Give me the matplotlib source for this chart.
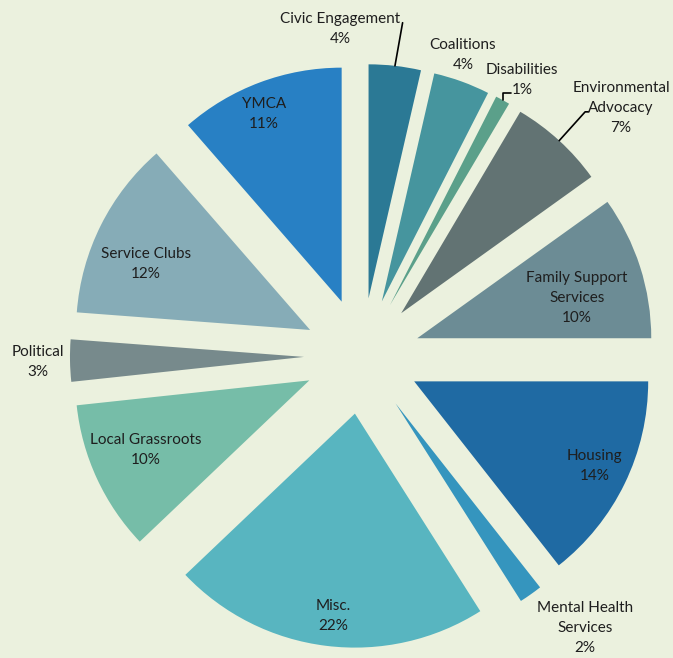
import numpy as np
import matplotlib
matplotlib.use("Agg")
import matplotlib.pyplot as plt

plt.rcParams['font.family'] = ['Lato', 'DejaVu Sans']

# data (clockwise from 12 o'clock)
categories = ['Civic Engagement', 'Coalitions', 'Disabilities', 'Environmental\nAdvocacy',
              'Family Support\nServices', 'Housing', 'Mental Health\nServices', 'Misc.',
              'Local Grassroots', 'Political', 'Service Clubs', 'YMCA']
shares = [3.6, 3.9, 1.0, 6.6, 9.9, 14.4, 1.6, 21.9, 10.4, 2.9, 12.4, 11.4]
colors = ['#2B7995', '#46959E', '#5BA08A', '#627373', '#6C8C95', '#1F6AA3',
          '#3595BE', '#58B5C0', '#76BDA8', '#778A8C', '#86ACB7', '#2880C4']

# label placement: distance (in radii) from wedge tip and angular shift (deg, clockwise)
label_r = [1.158, 1.109, 1.116, 1.285, 0.704, 0.853, 1.256, 0.870, 0.759, 1.137, 0.756, 0.868]
label_dev = [-12.5, -1.8, 1.6, 4.5, 3.6, -0.8, -4.8, -0.8, 1.7, -0.2, -4.7, -2.0]

BG = '#EBF1DE'
W, H = 673, 658
cx, cy, R = 362, 356, 234

fig = plt.figure(figsize=(W / 100, H / 100), dpi=100, facecolor=BG)
ax = fig.add_axes([0, 0, 1, 1])
ax.set_facecolor(BG)

wedges, _ = ax.pie(shares, colors=colors, startangle=90, counterclock=False,
                   explode=[0.248] * len(shares), radius=1,
                   wedgeprops=dict(linewidth=0))

ax.set_xlim(-cx / R, (W - cx) / R)
ax.set_ylim((cy - H) / R, cy / R)
ax.set_aspect('equal')
ax.axis('off')

text_kw = dict(ha='center', va='center', fontsize=11, color='#1E1E1E', linespacing=1.55)
line_kw = dict(arrowstyle='-', color='black', lw=1.2, patchA=None, shrinkA=0, shrinkB=0)

for i, w in enumerate(wedges):
    mid = np.deg2rad((w.theta1 + w.theta2) / 2)
    phi = np.deg2rad(90 - np.rad2deg(mid) + label_dev[i])
    x0, y0 = w.center
    tx = x0 + label_r[i] * np.sin(phi)
    ty = y0 + label_r[i] * np.cos(phi)
    txt = f"{categories[i]}\n{shares[i]:.0f}%"
    # point on outer arc at the middle of the wedge
    ox = x0 + np.cos(mid)
    oy = y0 + np.sin(mid)
    name = categories[i]
    if name == 'Civic Engagement':
        ax.annotate(txt, xy=(ox, oy), xytext=(tx, ty), **text_kw,
                    arrowprops=dict(**line_kw, relpos=(1.02, 0.68)))
    elif name == 'Disabilities':
        ax.annotate(txt, xy=(ox, oy), xytext=(tx, ty), **text_kw,
                    arrowprops=dict(**line_kw, relpos=(0.34, 0.12),
                                    connectionstyle='angle,angleA=0,angleB=90,rad=0'))
    elif name.startswith('Environmental'):
        ax.annotate(txt, xy=(ox, oy), xytext=(tx, ty), **text_kw,
                    arrowprops=dict(**line_kw, relpos=(0.17, 0.43),
                                    connectionstyle='angle,angleA=0,angleB=48,rad=0'))
    else:
        ax.text(tx, ty, txt, **text_kw)

fig.savefig('out.png', dpi=100, facecolor=BG)
